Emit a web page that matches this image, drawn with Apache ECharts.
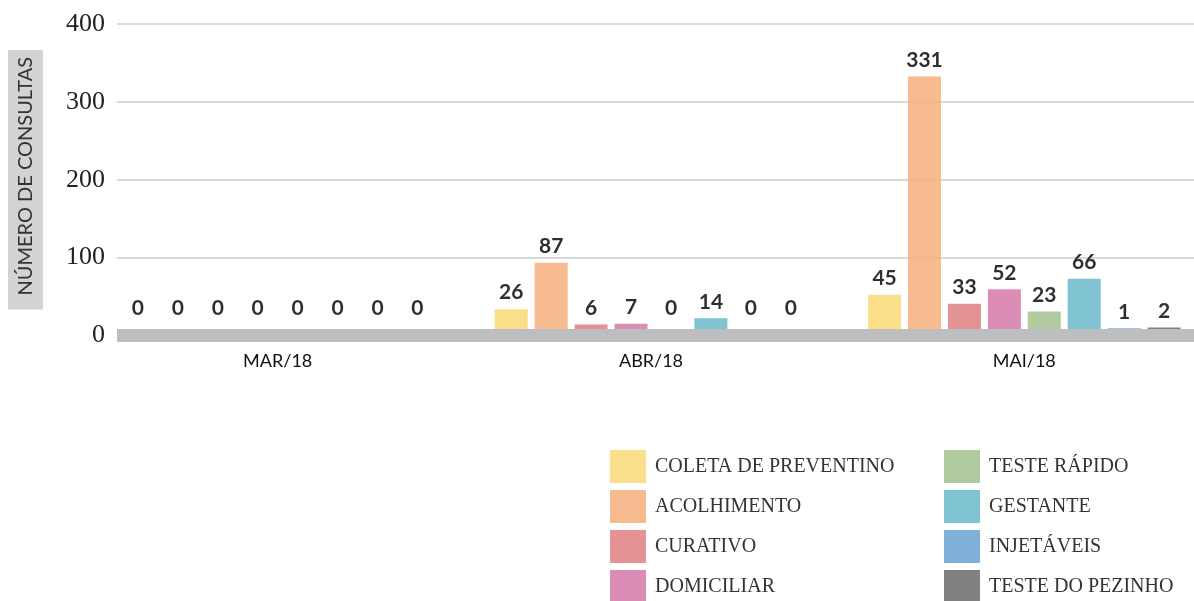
<!DOCTYPE html>
<html>
<head>
<meta charset="utf-8">
<script src="https://cdn.jsdelivr.net/npm/echarts@6/dist/echarts.min.js"></script>
<style>
  html, body { margin: 0; padding: 0; background: #fff; }
  #chart { width: 1194px; height: 601px; }
</style>
</head>
<body>
<div id="chart"></div>
<script>
// meses
var months = ['MAR/18', 'ABR/18', 'MAI/18'];
var yTicks = [0, 100, 200, 300, 400];

// consultas por tipo (MAR, ABR, MAI)
var coletaPreventivo = [0, 26, 45];
var acolhimento = [0, 87, 331];
var curativo = [0, 6, 33];
var domiciliar = [0, 7, 52];
var testeRapido = [0, 0, 23];
var gestante = [0, 14, 66];
var injetaveis = [0, 0, 1];
var testePezinho = [0, 0, 2];

var seriesNames = ['COLETA DE PREVENTINO', 'ACOLHIMENTO', 'CURATIVO', 'DOMICILIAR',
                   'TESTE RÁPIDO', 'GESTANTE', 'INJETÁVEIS', 'TESTE DO PEZINHO'];
var seriesData = [coletaPreventivo, acolhimento, curativo, domiciliar,
                  testeRapido, gestante, injetaveis, testePezinho];
// cores como aparecem sobre o branco
var colors = ['#FADF8A', '#F8BA8F', '#E39394', '#DB8DB5', '#B1CB9F', '#7FC4D3', '#80B0DA', '#808080'];
var barOpacity = 0.88;

// cor base para que, com transparência, o resultado sobre branco seja a cor acima
function baseColor(hex) {
    var out = '#';
    for (var k = 1; k < 7; k += 2) {
        var c = parseInt(hex.substr(k, 2), 16);
        var b = Math.round((c - (1 - barOpacity) * 255) / barOpacity);
        b = Math.max(0, Math.min(255, b));
        out += (b < 16 ? '0' : '') + b.toString(16);
    }
    return out;
}

var chart = echarts.init(document.getElementById('chart'));

var series = seriesNames.map(function (name, i) {
    return {
        name: name,
        type: 'bar',
        xAxisIndex: 1,
        yAxisIndex: 1,
        barWidth: 33,
        barGap: '21%',
        itemStyle: { color: baseColor(colors[i]), opacity: barOpacity },
        label: {
            show: true,
            position: 'top',
            distance: 6,
            color: '#111',
            fontFamily: 'Lato',
            fontWeight: 'bold',
            fontSize: 21
        },
        // os zeros ficam um pouco mais altos
        data: seriesData[i].map(function (v) {
            return v === 0 ? { value: v, label: { distance: 10 } } : v;
        })
    };
});

var legendBase = {
    orient: 'vertical',
    top: 450,
    height: 160,
    padding: 0,
    itemWidth: 36,
    itemHeight: 33,
    itemGap: 7,
    icon: 'rect',
    textStyle: {
        fontFamily: 'Liberation Serif',
        fontSize: 20,
        color: '#333',
        padding: [14, 0, 0, 4]
    }
};

var option = {
    animation: false,
    grid: [
        // linhas de grade e faixa cinza
        { left: 115, right: 0, top: 24, bottom: 265.5 },
        // barras (começam no topo da faixa cinza)
        { left: 91, right: -17, top: 24, bottom: 272, outerBoundsMode: 'none' }
    ],
    legend: [
        Object.assign({ left: 610, data: seriesNames.slice(0, 4) }, legendBase),
        Object.assign({ left: 944, data: seriesNames.slice(4) }, legendBase)
    ],
    xAxis: [
        {
            type: 'category',
            gridIndex: 0,
            data: months,
            axisTick: { show: false },
            axisLabel: { show: false },
            axisLine: {
                lineStyle: { color: '#BDBEC0', width: 13, cap: 'butt' }
            }
        },
        {
            type: 'category',
            gridIndex: 1,
            data: months,
            axisTick: { show: false },
            axisLine: { show: false },
            axisLabel: {
                margin: 23,
                color: '#111',
                fontFamily: 'Lato',
                fontSize: 18
            }
        }
    ],
    yAxis: [
        {
            type: 'value',
            gridIndex: 0,
            min: yTicks[0],
            max: yTicks[yTicks.length - 1],
            interval: 100,
            name: 'NÚMERO DE CONSULTAS',
            nameLocation: 'middle',
            nameGap: 74,
            nameTextStyle: {
                fontFamily: 'Lato',
                fontSize: 20,
                color: '#333',
                backgroundColor: '#D3D3D3',
                padding: [8, 7, 7, 14]
            },
            axisLine: { show: false },
            axisTick: { show: false },
            splitLine: {
                lineStyle: { color: '#CCCCCC', width: 1.5 }
            },
            axisLabel: {
                margin: 12,
                color: '#222',
                fontFamily: 'Liberation Serif',
                fontSize: 26
            }
        },
        {
            type: 'value',
            gridIndex: 1,
            min: yTicks[0],
            max: yTicks[yTicks.length - 1],
            interval: 100,
            show: false,
            splitLine: { show: false }
        }
    ],
    series: series
};

chart.setOption(option);
</script>
</body>
</html>
